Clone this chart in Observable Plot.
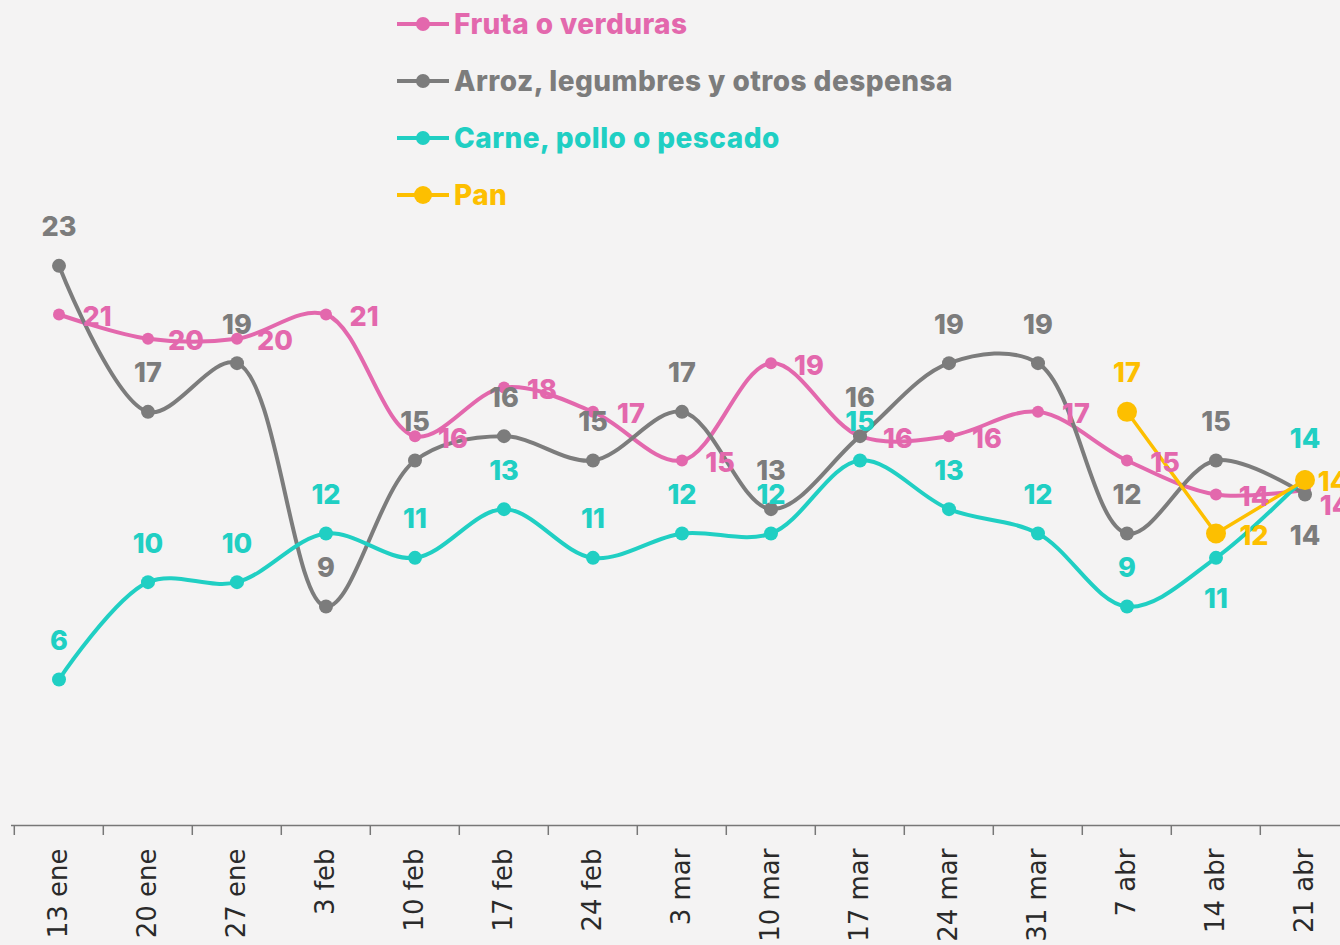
<!DOCTYPE html>
<html>
<head>
<meta charset="utf-8">
<script src="https://cdn.jsdelivr.net/npm/d3@7"></script>
<script src="https://cdn.jsdelivr.net/npm/@observablehq/plot@0.6"></script>
<style>
  html, body { margin: 0; padding: 0; background: #f4f3f3; overflow: hidden; width: 1340px; height: 945px; }
  #wrap { position: relative; width: 1340px; height: 945px; overflow: hidden; }
  #chart { position: absolute; left: 0; top: 0; }
  #legend { position: absolute; left: 397px; top: -5px; font-family: Inter, "Noto Sans", sans-serif; font-weight: 800; font-size: 28px; letter-spacing: 0.45px; z-index: 2; }
  #legend .row { height: 57px; display: flex; align-items: center; white-space: nowrap; }
  #legend svg { margin-right: 5px; }
</style>
</head>
<body>
<div id="wrap">
  <div id="legend"></div>
  <div id="chart"></div>
</div>
<script>
// ---- data ----
const fechas = ["13 ene", "20 ene", "27 ene", "3 feb", "10 feb", "17 feb", "24 feb", "3 mar", "10 mar", "17 mar", "24 mar", "31 mar", "7 abr", "14 abr", "21 abr"];
const series = ["Fruta o verduras", "Arroz, legumbres y otros despensa", "Carne, pollo o pescado", "Pan"];
const fruta = [21, 20, 20, 21, 16, 18, 17, 15, 19, 16, 16, 17, 15, 13.6, 13.8];
const arroz = [23, 17, 19, 9, 15, 16, 15, 17, 13, 16, 19, 19, 12, 15, 13.6];
const carne = [6, 10, 10, 12, 11, 13, 11, 12, 12, 15, 13, 12, 9, 11, 14.3];
const pan = [null, null, null, null, null, null, null, null, null, null, null, null, 17, 12, 14.2];
const colores = ["#e368ad", "#7c7c7c", "#20cfc3", "#fdbf00"];

// ---- styling config (not data) ----
const valores = [fruta, arroz, carne, pan];
const radios = [6, 7, 7, 10];
const curvas = ["catmull-rom", "catmull-rom", "catmull-rom", "linear"];
const anchoLinea = [4, 4, 4, 3.5];
// label placement: default per series, with exceptions by index
const lugarDefecto = ["right", "above", "above", "right"];
const lugarExcepciones = [{14: "edgeBelow"}, {14: "below"}, {13: "below"}, {12: "above", 14: "edge"}];

const rows = [];
valores.forEach((vals, s) => {
  vals.forEach((v, i) => {
    if (v == null) return;
    rows.push({
      fecha: fechas[i], valor: v, serie: series[s], s,
      lugar: lugarExcepciones[s][i] || lugarDefecto[s]
    });
  });
});

// ---- legend ----
const legend = document.getElementById("legend");
series.forEach((name, s) => {
  const row = document.createElement("div");
  row.className = "row";
  const r = s === 3 ? 9 : 7;
  row.innerHTML = `<svg width="52" height="22"><line x1="0" x2="52" y1="11" y2="11" stroke="${colores[s]}" stroke-width="4"/><circle cx="26" cy="11" r="${r}" fill="${colores[s]}"/></svg><span style="color:${colores[s]}">${name}</span>`;
  legend.appendChild(row);
});

// ---- chart ----
const W = 1352, H = 945, mL = 11, mR = 0;
const bw = (W - mL - mR) / fechas.length;
const labelFont = {fontFamily: "Inter, 'Noto Sans', sans-serif", fontWeight: 800, fontSize: 27};

const marks = [
  Plot.ruleY([0], {stroke: "#777", strokeWidth: 1.5}),
  Plot.axisX({ticks: fechas, tickSize: 10, text: null, stroke: "#777", strokeWidth: 1.5, dx: -bw / 2, label: null}),
  Plot.axisX({ticks: fechas, tickSize: 0, tickPadding: 23, tickRotate: -90, fontSize: 26, fill: "#2a2a2a", fontFamily: "'DejaVu Sans', sans-serif", label: null})
];
series.forEach((name, s) => {
  const data = rows.filter(r => r.s === s);
  marks.push(Plot.line(data, {x: "fecha", y: "valor", stroke: colores[s], strokeWidth: anchoLinea[s], curve: curvas[s]}));
  marks.push(Plot.dot(data, {x: "fecha", y: "valor", fill: colores[s], r: radios[s]}));
});
const offsets = {
  above: {dx: 0, dy: -38}, below: {dx: 0, dy: 42}, right: {dx: 38, dy: 3},
  edge: {dx: 28, dy: 2}, edgeBelow: {dx: 30, dy: 17}
};
series.forEach((name, s) => {
  Object.entries(offsets).forEach(([lugar, off]) => {
    const data = rows.filter(r => r.s === s && r.lugar === lugar);
    if (!data.length) return;
    marks.push(Plot.text(data, {x: "fecha", y: "valor", text: d => String(Math.round(d.valor)), fill: colores[s], dx: off.dx, dy: off.dy, ...labelFont}));
  });
});

const chart = Plot.plot({
  width: W, height: H,
  marginLeft: mL, marginRight: mR, marginTop: 95, marginBottom: 120,
  style: {background: "transparent", overflow: "visible", maxWidth: "none"},
  x: {type: "band", domain: fechas, padding: 0, axis: null},
  y: {domain: [0, 30], axis: null},
  marks
});
document.getElementById("chart").appendChild(chart);
</script>
</body>
</html>
